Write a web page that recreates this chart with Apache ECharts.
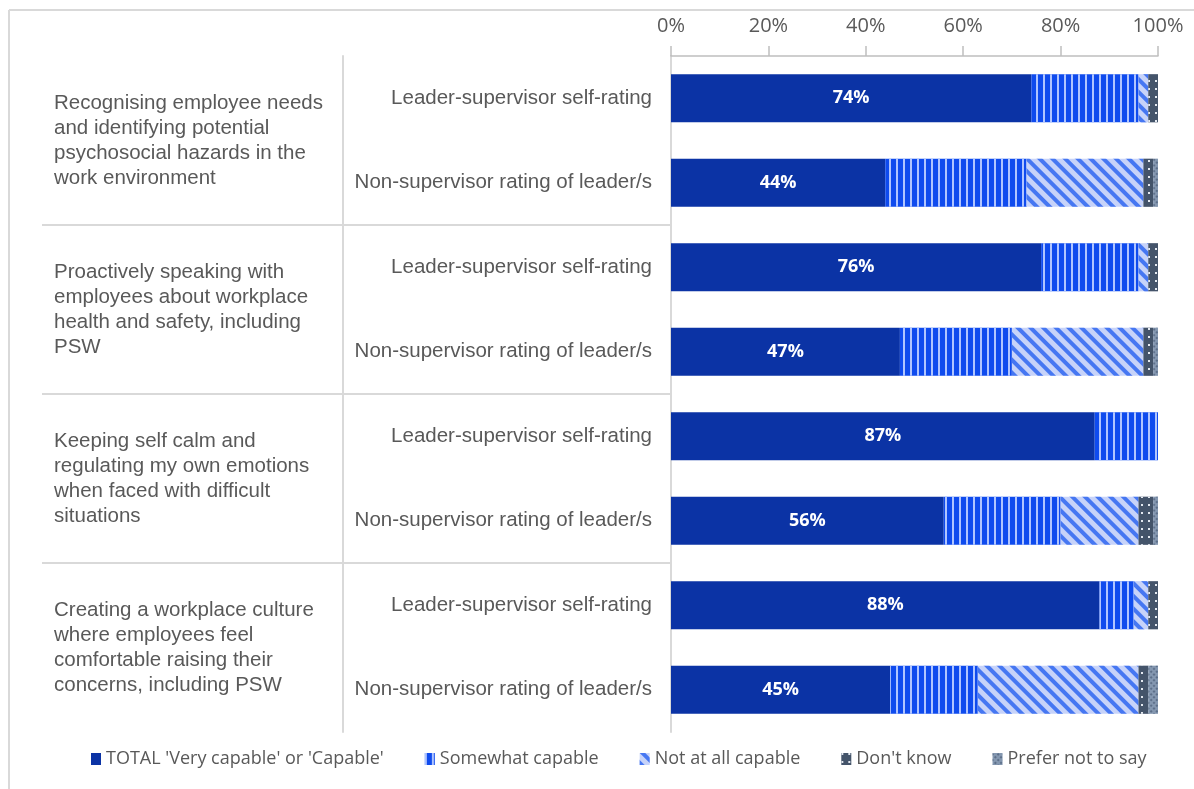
<!DOCTYPE html>
<html>
<head>
<meta charset="utf-8">
<script src="https://cdn.jsdelivr.net/npm/echarts@6/dist/echarts.min.js"></script>
<style>
  html, body { margin: 0; padding: 0; background: #ffffff; }
  #chart { width: 1194px; height: 789px; }
</style>
</head>
<body>
<div id="chart"></div>
<script>
// ---- Data ----
const groups = [
  'Recognising employee needs\nand identifying potential\npsychosocial hazards in the\nwork environment',
  'Proactively speaking with\nemployees about workplace\nhealth and safety, including\nPSW',
  'Keeping self calm and\nregulating my own emotions\nwhen faced with difficult\nsituations',
  'Creating a workplace culture\nwhere employees feel\ncomfortable raising their\nconcerns, including PSW'
];
const categories = [
  'Leader-supervisor self-rating', 'Non-supervisor rating of leader/s',
  'Leader-supervisor self-rating', 'Non-supervisor rating of leader/s',
  'Leader-supervisor self-rating', 'Non-supervisor rating of leader/s',
  'Leader-supervisor self-rating', 'Non-supervisor rating of leader/s'
];
const seriesNames = ["TOTAL 'Very capable' or 'Capable'", 'Somewhat capable', 'Not at all capable', "Don't know", 'Prefer not to say'];
const totalCapable   = [74, 44, 76, 47, 87, 56, 88, 45];
const somewhatCap    = [22, 29, 20, 23, 13, 24,  7, 18];
const notAtAllCap    = [ 2, 24,  2, 27,  0, 16,  3, 33];
const dontKnow       = [ 2,  2,  2,  2,  0,  3,  2,  2];
const preferNotToSay = [ 0,  1,  0,  1,  0,  1,  0,  2];
const xTicks = [0, 20, 40, 60, 80, 100];

// ---- Styles ----
const GRID_TOP = 56, GRID_H = 676;
const textGray = '#595959';
const lineGray = '#d9d9d9';

const styles = [
  { color: '#0B33A5' },
  { color: '#0F4BEE', decal: { symbol: 'rect', symbolSize: 1, color: 'rgba(185,203,255,0.95)', dashArrayX: [1.3, 5], dashArrayY: [10, 0], rotation: 0 } },
  { color: '#C7D3F9', decal: { symbol: 'rect', symbolSize: 1, color: '#4677F2', dashArrayX: [3.5, 5], dashArrayY: [10, 0], rotation: -Math.PI / 4 } },
  { color: '#44546A', decal: { symbol: 'rect', symbolSize: 1, color: '#e4e9f0', dashArrayX: [1.2, 5], dashArrayY: [1.2, 6], rotation: 0 } },
  { color: '#8497B0', decal: { symbol: 'rect', symbolSize: 1, color: 'rgba(60,78,105,0.55)', dashArrayX: [2, 2], dashArrayY: [2, 2], rotation: Math.PI / 4 } }
];
const values = [totalCapable, somewhatCap, notAtAllCap, dontKnow, preferNotToSay];

const series = seriesNames.map((name, i) => ({
  name: name,
  type: 'bar',
  stack: 'all',
  xAxisIndex: 0,
  yAxisIndex: 0,
  barWidth: '57%',
  data: values[i],
  itemStyle: Object.assign({ borderWidth: 0 }, styles[i]),
  emphasis: { disabled: true },
  label: i === 0 ? {
    show: true, position: 'inside', color: '#ffffff', fontWeight: 'bold',
    fontFamily: 'Open Sans', fontSize: 18, formatter: '{c}%'
  } : { show: false }
}));

const chart = echarts.init(document.getElementById('chart'), null, { renderer: 'canvas' });
chart.setOption({
  animation: false,
  backgroundColor: '#ffffff',
  grid: [
    { left: 671, right: 36, top: GRID_TOP, height: GRID_H, containLabel: false },
    { left: 42, width: 301, top: GRID_TOP, height: GRID_H, containLabel: false },
    { left: 343, width: 328, top: GRID_TOP, height: GRID_H, containLabel: false }
  ],
  legend: {
    data: seriesNames,
    left: 86,
    top: 745,
    itemWidth: 10,
    itemHeight: 12,
    itemGap: 41,
    icon: 'rect',
    textStyle: { color: textGray, fontFamily: 'Open Sans', fontSize: 18 },
    selectedMode: false
  },
  xAxis: [
    {
      gridIndex: 0, type: 'value', position: 'top', min: xTicks[0], max: xTicks[xTicks.length - 1], interval: xTicks[1] - xTicks[0],
      axisLine: { show: true, lineStyle: { color: '#bfbfbf', width: 1.5 } },
      axisTick: { show: true, length: 10, lineStyle: { color: '#bfbfbf', width: 1.5 } },
      splitLine: { show: false },
      axisLabel: { formatter: '{value}%', color: textGray, fontFamily: 'Open Sans', fontSize: 20, margin: 20 }
    },
    { gridIndex: 1, type: 'value', show: false },
    { gridIndex: 2, type: 'value', show: false }
  ],
  yAxis: [
    {
      gridIndex: 0, type: 'category', data: categories, inverse: true,
      axisLine: { show: true, lineStyle: { color: lineGray, width: 2 } },
      axisTick: { show: false },
      axisLabel: { interval: 0, color: textGray, fontFamily: 'Liberation Sans', fontSize: 20.5, margin: 19 }
    },
    {
      gridIndex: 1, type: 'category', data: groups, inverse: true,
      axisLine: { show: false },
      axisTick: { show: false },
      splitLine: { show: true, showMinLine: false, showMaxLine: false, lineStyle: { color: lineGray, width: 2 } },
      axisLabel: { interval: 0, align: 'left', margin: -12, color: textGray, fontFamily: 'Liberation Sans', fontSize: 20.5, lineHeight: 25 }
    },
    {
      gridIndex: 2, type: 'category', data: groups, inverse: true,
      axisLine: { show: true, lineStyle: { color: lineGray, width: 2 } },
      axisTick: { show: false },
      splitLine: { show: true, showMinLine: false, showMaxLine: false, lineStyle: { color: lineGray, width: 2 } },
      axisLabel: { show: false }
    }
  ],
  graphic: [
    { type: 'line', silent: true, shape: { x1: 9, y1: 10, x2: 1194, y2: 10 }, style: { stroke: lineGray, lineWidth: 2 } },
    { type: 'line', silent: true, shape: { x1: 9, y1: 10, x2: 9, y2: 789 }, style: { stroke: lineGray, lineWidth: 2 } }
  ],
  series: series
});
</script>
</body>
</html>
